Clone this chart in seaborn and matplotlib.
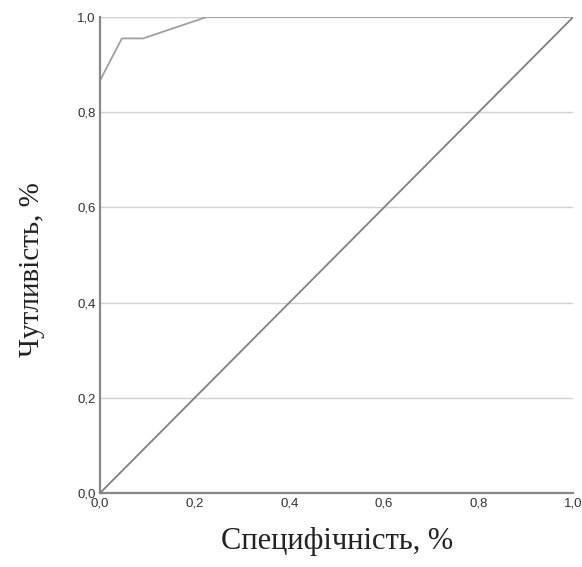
import matplotlib
matplotlib.use("Agg")
import matplotlib.pyplot as plt
import seaborn as sns
import pandas as pd

# ROC curve points
fpr = [0.0, 0.0, 0.046, 0.091, 0.225, 1.0]
tpr = [0.0, 0.867, 0.955, 0.955, 1.0, 1.0]
diag = [0.0, 1.0]
ticks = [0.0, 0.2, 0.4, 0.6, 0.8, 1.0]
tick_labels = ["0,0", "0,2", "0,4", "0,6", "0,8", "1,0"]

sns.set_theme(style="white")
plt.rcParams['font.family'] = ['Liberation Sans', 'DejaVu Sans']

fig = plt.figure(figsize=(5.82, 5.67), dpi=100)
ax = fig.add_axes([0.172, 0.1305, 0.813, 0.8395])

for t in ticks[1:]:
    ax.axhline(t, color="#d0d0d0", lw=1.0, zorder=0)

roc = pd.DataFrame({"fpr": fpr, "tpr": tpr})
sns.lineplot(data=roc, x="fpr", y="tpr", sort=False, estimator=None,
             color="#a0a0a0", lw=1.3, ax=ax)
sns.lineplot(x=diag, y=diag, estimator=None, color="#808080", lw=1.3, ax=ax)

ax.set_xlim(0, 1)
ax.set_ylim(0, 1)
ax.set_xticks(ticks)
ax.set_xticklabels(tick_labels, fontsize=9.5, color="#333333")
ax.set_yticks(ticks)
ax.set_yticklabels(tick_labels, fontsize=9.5, color="#333333")
ax.tick_params(length=0, pad=3)

for s in ["top", "right"]:
    ax.spines[s].set_visible(False)
for s in ["left", "bottom"]:
    ax.spines[s].set_color("#888888")
    ax.spines[s].set_linewidth(1.6)

serif = ["Liberation Serif", "DejaVu Serif"]
ax.set_xlabel("Специфічність, %", family=serif, fontsize=22, color="#222222", labelpad=13)
ax.set_ylabel("Чутливість, %", family=serif, fontsize=21, color="#222222", labelpad=23)
ax.yaxis.label.set_y(0.47)

fig.savefig("out.png", dpi=100)
